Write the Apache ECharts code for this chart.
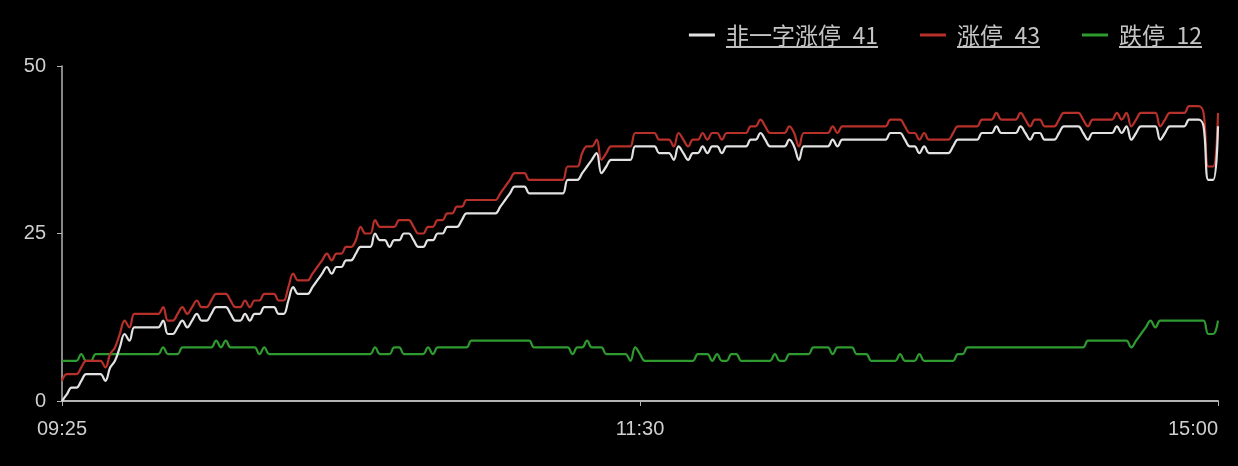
<!DOCTYPE html>
<html>
<head>
<meta charset="utf-8">
<script src="https://cdn.jsdelivr.net/npm/echarts@6/dist/echarts.min.js"></script>
<style>
html,body{margin:0;padding:0;background:#000;}
#chart{width:1238px;height:466px;}
</style>
</head>
<body>
<div id="chart"></div>
<script>
// Tick labels shown on the time axis
const tickLabels = ['09:25', '11:30', '15:00'];

// Category axis: 09:25 auction, then 09:31-11:30, 13:01-15:00
const categories = ['09:25'];
(function () {
  function pad(n) { return (n < 10 ? '0' : '') + n; }
  for (let m = 9 * 60 + 31; m <= 11 * 60 + 30; m++) categories.push(pad(Math.floor(m / 60)) + ':' + pad(m % 60));
  for (let m = 13 * 60 + 1; m <= 15 * 60; m++) categories.push(pad(Math.floor(m / 60)) + ':' + pad(m % 60));
})();

const seriesNames = ['非一字涨停', '涨停', '跌停'];

const nonOneWordLimitUp = [
  0,1,2,2,3,4,4,4,4,3, 5,6,8,10,9,11,11,11,11,11,
  11,12,10,10,11,12,11,12,13,12, 12,13,14,14,14,13,12,12,13,12,
  13,13,14,14,14,13,13,15,17,16, 16,16,17,18,19,20,19,20,20,21,
  21,22,23,23,23,25,24,24,23,24, 24,25,25,24,23,23,24,24,25,25,
  26,26,26,27,28,28,28,28,28,28, 28,29,30,31,32,32,32,31,31,31,
  31,31,31,31,31,33,33,33,34,35, 36,37,34,35,36,36,36,36,36,38,
  38,38,38,38,37,37,37,36,38,37, 36,37,37,38,37,38,38,37,38,38,
  38,38,38,39,39,40,39,38,38,38, 38,39,38,36,38,38,38,38,38,38,
  39,38,39,39,39,39,39,39,39,39, 39,39,40,40,40,39,38,38,37,38,
  37,37,37,37,37,38,39,39,39,39, 39,40,40,40,41,40,40,40,40,41,
  40,39,40,40,39,39,39,40,41,41, 41,41,40,39,40,40,40,40,40,41,
  40,41,39,40,41,41,41,41,39,40, 41,41,41,41,42,42,42,41,33,33,
  41
];

const limitUp = [
  3,4,4,4,5,6,6,6,6,5, 7,8,10,12,11,13,13,13,13,13,
  13,14,12,12,13,14,13,14,15,14, 14,15,16,16,16,15,14,14,15,14,
  15,15,16,16,16,15,15,17,19,18, 18,18,19,20,21,22,21,22,22,23,
  23,24,26,25,25,27,26,26,26,26, 27,27,27,26,25,25,26,26,27,27,
  28,28,29,29,30,30,30,30,30,30, 30,31,32,33,34,34,34,33,33,33,
  33,33,33,33,33,35,35,35,37,38, 38,39,36,37,38,38,38,38,38,40,
  40,40,40,40,39,39,39,38,40,39, 38,39,39,40,39,40,40,39,40,40,
  40,40,40,41,41,42,41,40,40,40, 40,41,40,38,40,40,40,40,40,40,
  41,40,41,41,41,41,41,41,41,41, 41,41,42,42,42,41,40,40,39,40,
  39,39,39,39,39,40,41,41,41,41, 41,42,42,42,43,42,42,42,42,43,
  42,41,42,42,41,41,41,42,43,43, 43,43,42,41,42,42,42,42,42,43,
  42,43,41,42,43,43,43,43,41,42, 43,43,43,43,44,44,44,43,35,35,
  43
];

const limitDown = [
  6,6,6,6,7,6,6,7,7,7, 7,7,7,7,7,7,7,7,7,7,
  7,8,7,7,7,8,8,8,8,8, 8,8,9,8,9,8,8,8,8,8,
  8,7,8,7,7,7,7,7,7,7, 7,7,7,7,7,7,7,7,7,7,
  7,7,7,7,7,8,7,7,7,8, 8,7,7,7,7,7,8,7,8,8,
  8,8,8,8,8,9,9,9,9,9, 9,9,9,9,9,9,9,9,8,8,
  8,8,8,8,8,8,7,8,8,9, 8,8,8,7,7,7,7,7,6,8,
  7,6,6,6,6,6,6,6,6,6, 6,6,7,7,7,6,7,6,6,7,
  7,6,6,6,6,6,6,6,7,6, 6,7,7,7,7,7,8,8,8,8,
  7,8,8,8,8,7,7,7,6,6, 6,6,6,6,7,6,6,6,7,6,
  6,6,6,6,6,6,7,7,8,8, 8,8,8,8,8,8,8,8,8,8,
  8,8,8,8,8,8,8,8,8,8, 8,8,8,9,9,9,9,9,9,9,
  9,9,8,9,10,11,12,11,12,12, 12,12,12,12,12,12,12,12,10,10,
  12
];

const seriesData = [nonOneWordLimitUp, limitUp, limitDown];
const seriesColors = ['#e2e2e2', '#b8302a', '#2f9a2f'];

function underlineImage() {
  const c = document.createElement('canvas');
  c.width = 4; c.height = 40;
  const ctx = c.getContext('2d');
  ctx.fillStyle = '#c0c0c0';
  ctx.fillRect(0, 37, 4, 3);
  return c;
}
const ul = underlineImage();

const tickIdx = [0, categories.indexOf('11:30'), categories.length - 1];
function showTick(i) { return tickIdx.indexOf(i) >= 0; }

const chart = echarts.init(document.getElementById('chart'), null, { renderer: 'canvas' });
chart.setOption({
  backgroundColor: '#000',
  animation: false,
  grid: { left: 62, right: 20, top: 66, bottom: 65, containLabel: false },
  legend: {
    top: 17,
    right: 31,
    icon: 'rect',
    itemWidth: 26,
    itemHeight: 3,
    itemGap: 42,
    data: seriesNames,
    formatter: function (name) {
      const k = seriesNames.indexOf(name);
      const d = seriesData[k];
      return '{s|}{u|' + name + '\u2002' + d[d.length - 1] + '}';
    },
    textStyle: {
      color: '#c4c4c4',
      fontSize: 23,
      fontFamily: 'Noto Sans CJK SC',
      rich: {
        s: { width: 6 },
        u: {
          color: '#c4c4c4',
          fontSize: 23,
          fontFamily: 'Noto Sans CJK SC',
          lineHeight: 24,
          padding: [2, 0, 1, 0],
          backgroundColor: { image: ul }
        }
      }
    }
  },
  xAxis: {
    type: 'category',
    boundaryGap: false,
    data: categories,
    axisLine: { lineStyle: { color: '#b4b4b4', width: 2 } },
    axisTick: {
      show: true,
      length: 5,
      interval: function (i) { return showTick(i); },
      lineStyle: { color: '#b4b4b4' }
    },
    axisLabel: {
      color: '#cfcfcf',
      fontSize: 20,
      fontFamily: 'Liberation Sans',
      margin: 18,
      interval: function (i) { return showTick(i); },
      alignMaxLabel: 'right',
      showMaxLabel: true,
      showMinLabel: true
    },
    splitLine: { show: false }
  },
  yAxis: {
    type: 'value',
    min: 0,
    max: 50,
    interval: 25,
    axisLine: { show: true, lineStyle: { color: '#b4b4b4', width: 1.5 } },
    axisTick: { show: true, length: 5, lineStyle: { color: '#b4b4b4' } },
    axisLabel: { color: '#cfcfcf', fontSize: 20, fontFamily: 'Liberation Sans', margin: 16 },
    splitLine: { show: false }
  },
  series: seriesNames.map(function (n, k) {
    return {
      name: n,
      type: 'line',
      data: seriesData[k],
      showSymbol: false,
      smooth: 0.4,
      lineStyle: { color: seriesColors[k], width: 2.2 },
      itemStyle: { color: seriesColors[k] },
      z: 3 - k
    };
  })
});
</script>
</body>
</html>
